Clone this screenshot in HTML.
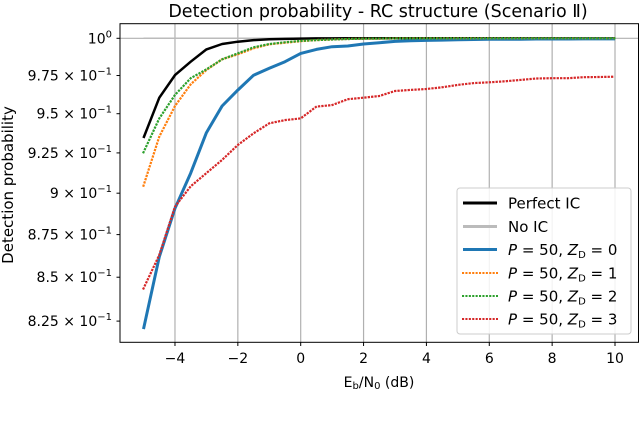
<!DOCTYPE html>
<html><head><meta charset="utf-8">
<style>
html,body{margin:0;padding:0;background:#fff;}
svg{display:block;font-family:"DejaVu Sans","Liberation Sans",sans-serif;}
</style></head>
<body>
<svg id="chart" width="640" height="422" viewBox="0 0 640 422" xmlns="http://www.w3.org/2000/svg">
<text x="378" y="17" font-size="17.5" text-anchor="middle">Detection probability - RC structure (Scenario Ⅱ)</text>
<g id="grid"></g>
<g id="series"></g>
<rect x="120" y="23.7" width="518.5" height="318.6" fill="none" stroke="#000" stroke-width="1"/>
<g id="xticks"></g>
<g id="yticks"></g>
<text x="379" y="387" font-size="14" text-anchor="middle">E<tspan font-size="10" dy="2">b</tspan><tspan dy="-2">/N</tspan><tspan font-size="10" dy="2">0</tspan><tspan dy="-2">  (dB)</tspan></text>
<text transform="translate(13,185) rotate(-90)" font-size="15" text-anchor="middle">Detection probability</text>
<g>
<rect x="457" y="188" width="174" height="146" rx="3" fill="#fff" fill-opacity="0.85" stroke="#ccc"/>
<g id="legend-items"></g>
</g>
</svg>
<script>
const xValues = [-5,-4.5,-4,-3.5,-3,-2.5,-2,-1.5,-1,-0.5,0,0.5,1,1.5,2,2.5,3,3.5,4,4.5,5,5.5,6,6.5,7,7.5,8,8.5,9,9.5,10];
const perfectIC = [0.9344,0.9604,0.9753,0.9842,0.9925,0.9961,0.9977,0.9988,0.9993,0.9996,0.9998,0.9999,0.9999,1,1,1,1,1,1,1,1,1,1,1,1,1,1,1,1,1,1];
const noIC = [1,1,1,1,1,1,1,1,1,1,1,1,1,1,1,1,1,1,1,1,1,1,1,1,1,1,1,1,1,1,1];
const zd0 = [0.8205,0.8619,0.8908,0.9124,0.9378,0.9550,0.9654,0.9752,0.9798,0.9842,0.9898,0.9925,0.9943,0.9948,0.9961,0.9970,0.9979,0.9983,0.9986,0.9988,0.9990,0.9992,0.9993,0.9994,0.9994,0.9995,0.9995,0.9995,0.9996,0.9996,0.9996];
const zd1 = [0.9046,0.9353,0.9550,0.9692,0.9787,0.9858,0.9892,0.9932,0.9959,0.9970,0.9980,0.9988,0.9992,0.9995,0.9997,0.9998,0.9999,0.9999,0.9999,1,1,1,1,1,1,1,1,1,1,1,1];
const zd2 = [0.9254,0.9470,0.9622,0.9732,0.9791,0.9858,0.9898,0.9939,0.9961,0.9973,0.9982,0.9988,0.9992,0.9995,0.9997,0.9998,0.9999,0.9999,0.9999,1,1,1,1,1,1,1,1,1,1,1,1];
const zd3 = [0.8435,0.8630,0.8918,0.9042,0.9124,0.9206,0.9300,0.9374,0.9438,0.9459,0.9470,0.9546,0.9556,0.9594,0.9604,0.9615,0.9648,0.9655,0.9661,0.9672,0.9688,0.9700,0.9705,0.9712,0.9721,0.9730,0.9732,0.9732,0.9739,0.9740,0.9742];
const xTicks = [-4,-2,0,2,4,6,8,10];
const xTickLabels = ["−4","−2","0","2","4","6","8","10"];
const yTicks = [0.825,0.85,0.875,0.9,0.925,0.95,0.975,1];
const yTickMant = ["8.25","8.5","8.75","9","9.25","9.5","9.75",""];
const legendLabels = ["Perfect IC","No IC","Z0","Z1","Z2","Z3"];

const NS="http://www.w3.org/2000/svg";
function xs(v){return 300.7+(v)*31.43;}
function ys(v){return 38.3-Math.log10(v)*3385;}
function mk(tag,attrs,parent){const e=document.createElementNS(NS,tag);for(const k in attrs)e.setAttribute(k,attrs[k]);parent.appendChild(e);return e;}

const grid=document.getElementById('grid');
const xt=document.getElementById('xticks');
xTicks.forEach((t,i)=>{
  const g=mk('line',{x1:xs(t),x2:xs(t),y1:23.7,y2:342.3,stroke:'#b0b0b0','stroke-width':1.2},grid);
  
  
  const tk=mk('line',{x1:xs(t),x2:xs(t),y1:342.3,y2:346,stroke:'#000'},xt);
  
  
  const lb=mk('text',{x:xs(t),y:363,'font-size':14,'text-anchor':'middle'},xt);
  lb.textContent=xTickLabels[i];
  
  
});
const hg=mk('line',{x1:120,x2:638.5,y1:ys(1),y2:ys(1),stroke:'#b0b0b0','stroke-width':1.2},grid);



const yt=document.getElementById('yticks');
yTicks.forEach((t,i)=>{
  const y=ys(t);
  const tk=mk('line',{x1:116.5,x2:120,y1:y,y2:y,stroke:'#000'},yt);
  
  
  const lb=mk('text',{x:112,y:y+5,'font-size':14,'text-anchor':'end'},yt);
  
  
  if(yTickMant[i]===""){
    lb.innerHTML='10<tspan font-size="10" dy="-6">0</tspan>';
  } else {
    lb.innerHTML=yTickMant[i]+' × 10<tspan font-size="10" dy="-6">−1</tspan>';
  }
});

const seriesG=document.getElementById('series');
const DOT='0.1,3.3';
const styles=[
  {data:noIC,color:'#bbbbbb',w:1.5,dash:null,name:'series-no-ic'},
  {data:perfectIC,color:'#000000',w:2.5,dash:null,name:'series-perfect-ic'},
  {data:zd0,color:'#1f77b4',w:3,dash:null,name:'series-zd-0'},
  {data:zd1,color:'#ff7f0e',w:2.2,dash:DOT,name:'series-zd-1'},
  {data:zd2,color:'#2ca02c',w:2.2,dash:DOT,name:'series-zd-2'},
  {data:zd3,color:'#d62728',w:2.2,dash:DOT,name:'series-zd-3'}
];
styles.forEach(s=>{
  const pts=xValues.map((x,i)=>xs(x).toFixed(1)+','+ys(s.data[i]).toFixed(1)).join(' ');
  const a={points:pts,fill:'none',stroke:s.color,'stroke-width':s.w,'stroke-linejoin':'round'};
  if(s.dash){a['stroke-dasharray']=s.dash;a['stroke-linecap']='square';}
  const p=mk('polyline',a,seriesG);
  
  
});

const li=document.getElementById('legend-items');
const legStyles=[
  {color:'#000',w:3,dash:null},{color:'#bbb',w:3,dash:null},{color:'#1f77b4',w:3,dash:null},
  {color:'#ff7f0e',w:2,dash:DOT},{color:'#2ca02c',w:2,dash:DOT},{color:'#d62728',w:2,dash:DOT}
];
const legY=[203,226.5,249.5,273,296,319];
legStyles.forEach((s,i)=>{
  const a={x1:463,x2:497,y1:legY[i],y2:legY[i],stroke:s.color,'stroke-width':s.w};
  if(s.dash){a['stroke-dasharray']=s.dash;a['stroke-linecap']='square';}
  const l=mk('line',a,li);
  
  
  const t=mk('text',{x:508,y:legY[i]+5.5,'font-size':15},li);
  
  
  const lab=legendLabels[i];
  if(lab.startsWith('Z')){
    t.innerHTML='<tspan font-style="italic">P</tspan> = 50, <tspan font-style="italic">Z</tspan><tspan font-size="10" dy="3">D</tspan><tspan dy="-3"> = '+lab.slice(1)+'</tspan>';
  } else t.textContent=lab;
});
</script>
</body></html>
